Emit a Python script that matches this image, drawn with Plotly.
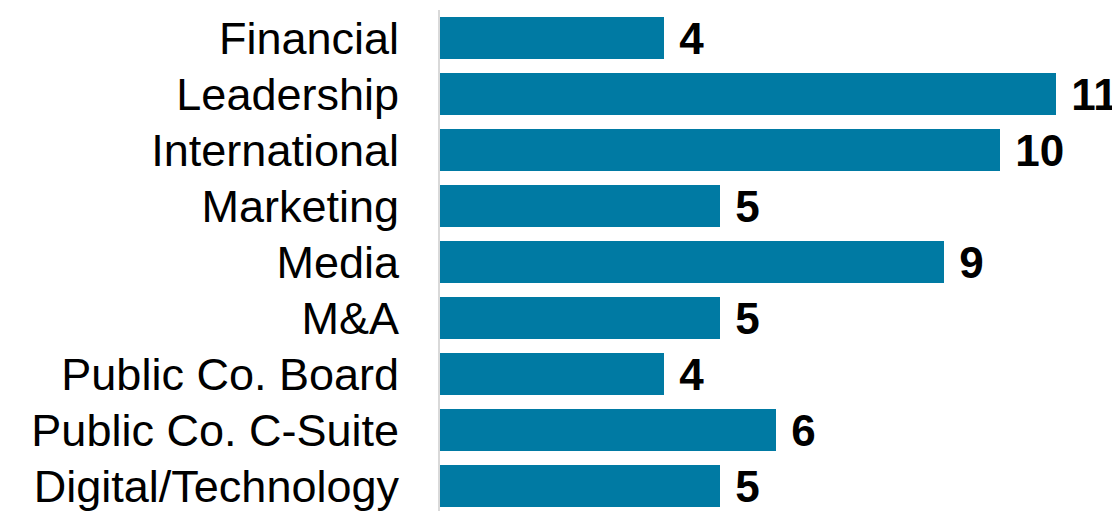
import plotly.graph_objects as go

categories = ["Financial", "Leadership", "International", "Marketing", "Media",
              "M&A", "Public Co. Board", "Public Co. C-Suite", "Digital/Technology"]
values = [4, 11, 10, 5, 9, 5, 4, 6, 5]

fig = go.Figure(go.Bar(
    x=values,
    y=categories,
    orientation="h",
    marker=dict(color="#007AA3", line=dict(width=0)),
    text=values,
    texttemplate=" %{text}",
    textposition="outside",
    constraintext="none",
    cliponaxis=False,
    textfont=dict(family="Liberation Sans, Arial, sans-serif", size=44, color="#000000", weight="bold"),
    width=0.75,
))

fig.update_layout(
    width=1112,
    height=511,
    margin=dict(l=440, r=0, t=10, b=0, autoexpand=False),
    paper_bgcolor="white",
    plot_bgcolor="white",
    showlegend=False,
    font=dict(family="Liberation Sans, Arial, sans-serif", size=45, color="#000000"),
    xaxis=dict(range=[0, 12], visible=False, fixedrange=True, automargin=False),
    yaxis=dict(
        categoryorder="array",
        categoryarray=categories,
        range=[8.446, -0.5],
        showline=True,
        linecolor="#D9D9D9",
        linewidth=2,
        showgrid=False,
        zeroline=False,
        ticks="",
        automargin=False,
        fixedrange=True,
        ticklabelstandoff=30,
        tickfont=dict(size=45, color="#000000"),
    ),
)

fig.write_html(
    "out.html",
    config={"displayModeBar": False, "staticPlot": True},
    post_script="document.body.style.margin='0';document.body.style.overflow='hidden';",
)
